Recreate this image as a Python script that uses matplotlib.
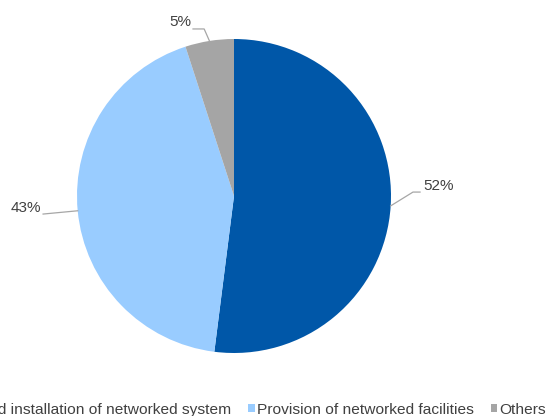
import matplotlib
matplotlib.use("Agg")
import matplotlib.pyplot as plt
import numpy as np

plt.rcParams["font.family"] = ["Liberation Sans", "DejaVu Sans"]

categories = ["Design and installation of networked system",
              "Provision of networked facilities",
              "Others"]
shares = [52, 43, 5]
colors = ["#0057A8", "#99CCFF", "#A5A5A5"]

# leader lines: elbow and end point (axes data units), then text anchor
leaders = [((1.14, 0.025), (1.185, 0.025), (1.204, 0.064), "left"),
           ((-1.216, -0.115), (-1.216, -0.115), (-1.229, -0.076), "right"),
           ((-0.19, 1.064), (-0.261, 1.064), (-0.274, 1.108), "right")]

W, H = 548, 416
fig = plt.figure(figsize=(W / 100, H / 100), dpi=100)
cx, cy, r = 234, 196, 157
ax = fig.add_axes([(cx - r) / W, (H - cy - r) / H, 2 * r / W, 2 * r / H])

wedges, _ = ax.pie(shares, colors=colors, startangle=90, counterclock=False,
                   radius=1, wedgeprops=dict(linewidth=0))
ax.set_xlim(-1, 1)
ax.set_ylim(-1, 1)
ax.set_aspect("equal")
ax.axis("off")

for w, val, (elbow, end, txt, ha) in zip(wedges, shares, leaders):
    mid = np.deg2rad((w.theta1 + w.theta2) / 2)
    px, py = np.cos(mid), np.sin(mid)
    ax.plot([px, elbow[0], end[0]], [py, elbow[1], end[1]],
            color="#A6A6A6", lw=0.9, clip_on=False)
    ax.text(txt[0], txt[1], f"{val}%", ha=ha, va="center", fontsize=11,
            color="#404040", clip_on=False)

leg = fig.legend(wedges, categories, loc="center left", ncol=3,
                 bbox_to_anchor=(0, 0.015), frameon=False,
                 fontsize=11.15, handlelength=0.4, handleheight=0.4,
                 handletextpad=0.15, columnspacing=1.1, borderpad=0)
for t in leg.get_texts():
    t.set_color("#404040")

# slide the legend so the second entry's text starts at x=257 px
fig.canvas.draw()
x0 = leg.get_texts()[1].get_window_extent().x0
leg.set_bbox_to_anchor((-(x0 - 257) / W, 0.015), transform=fig.transFigure)

fig.savefig("out.png", dpi=100)
